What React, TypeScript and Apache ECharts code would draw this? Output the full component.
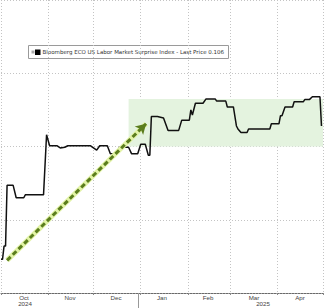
import React, { useEffect, useRef } from "react";
import * as echarts from "echarts";

// Bloomberg ECO US Labor Market Surprise Index
const dates: string[] = [
  "2024-10-01", "2024-10-02", "2024-10-03", "2024-10-04", "2024-10-05", "2024-10-09",
  "2024-10-11", "2024-10-16", "2024-10-17", "2024-10-29", "2024-10-31", "2024-11-02",
  "2024-11-07", "2024-11-09", "2024-11-12", "2024-11-14", "2024-11-29", "2024-12-03",
  "2024-12-05", "2024-12-10", "2024-12-12", "2024-12-16", "2024-12-18", "2024-12-24",
  "2024-12-26", "2024-12-30", "2025-01-01", "2025-01-04", "2025-01-06", "2025-01-07",
  "2025-01-08", "2025-01-12", "2025-01-16", "2025-01-19", "2025-01-26", "2025-01-28",
  "2025-02-02", "2025-02-03", "2025-02-04", "2025-02-06", "2025-02-11", "2025-02-13",
  "2025-02-19", "2025-02-20", "2025-02-26", "2025-02-27", "2025-03-03", "2025-03-05",
  "2025-03-06", "2025-03-08", "2025-03-12", "2025-03-13", "2025-03-27", "2025-03-28",
  "2025-04-02", "2025-04-03", "2025-04-04", "2025-04-06", "2025-04-11", "2025-04-12",
  "2025-04-18", "2025-04-19", "2025-04-22", "2025-04-24", "2025-04-29", "2025-04-30",
];
const values: number[] = [
  -0.054, -0.054, -0.036, -0.036, 0.047, 0.047,
  0.030, 0.030, 0.034, 0.034, 0.116, 0.101,
  0.101, 0.098, 0.099, 0.101, 0.101, 0.095,
  0.101, 0.101, 0.090, 0.090, 0.099, 0.099,
  0.090, 0.090, 0.103, 0.103, 0.088, 0.088,
  0.141, 0.141, 0.139, 0.122, 0.122, 0.136,
  0.136, 0.150, 0.143, 0.159, 0.159, 0.165,
  0.165, 0.162, 0.162, 0.154, 0.154, 0.128,
  0.124, 0.119, 0.119, 0.124, 0.124, 0.131,
  0.131, 0.142, 0.142, 0.154, 0.154, 0.161,
  0.161, 0.164, 0.164, 0.168, 0.168, 0.128,
];

const monthLabels: string[] = ["Oct", "Nov", "Dec", "Jan", "Feb", "Mar", "Apr"];
const yearLabels: string[] = ["2024", "2025"];
const axisRange: string[] = ["2024-10-01", "2025-05-01"];
const yRange: number[] = [-0.1, 0.3];

// shaded band and trend arrow (data units)
const bandStart: string[] = ["2024-12-24", "2025-05-01"];
const bandValues: number[] = [0.1, 0.165];
const arrowDates: string[] = ["2024-10-05", "2025-01-04T12:00:00"];
const arrowValues: number[] = [-0.0555, 0.131];

const legendText = "Bloomberg ECO US Labor Market Surprise Index - Last Price 0.106";

export default function App() {
  const ref = useRef<HTMLDivElement>(null);

  useEffect(() => {
    document.body.style.margin = "0";
    if (!ref.current) return;
    const chart = echarts.init(ref.current, undefined, { renderer: "svg" });
    const p = (s: string) => +echarts.time.parse(s);
    const lineData = dates.map((d, i) => [p(d), values[i]]);
    const font = "Liberation Sans";

    chart.setOption({
      animation: false,
      backgroundColor: "#ffffff",
      grid: { left: 1, right: 1, top: -3, bottom: 15, containLabel: false },
      xAxis: [
        {
          type: "time",
          min: p(axisRange[0]),
          max: p(axisRange[1]),
          splitNumber: 7,
          axisLine: { show: true, onZero: false, lineStyle: { color: "#6a6a6a", width: 1, type: [2, 1] } },
          axisTick: { show: true, length: 2, lineStyle: { color: "#888" } },
          axisLabel: { show: false },
          splitLine: { show: true, lineStyle: { color: "#c4c4c4", type: [1, 2], width: 1 } },
        },
        {
          type: "category",
          data: monthLabels,
          boundaryGap: true,
          position: "bottom",
          axisLine: { show: false },
          axisTick: { show: false },
          splitLine: { show: false },
          axisLabel: {
            show: true,
            interval: 0,
            margin: 1,
            fontFamily: font,
            fontSize: 6.2,
            color: "#444",
            lineHeight: 7,
          },
        },
      ],
      yAxis: {
        type: "value",
        min: yRange[0],
        max: yRange[1],
        interval: 0.1,
        axisLine: { show: false },
        axisTick: { show: false },
        axisLabel: { show: false },
        splitLine: { show: true, lineStyle: { color: "#c4c4c4", type: [1, 2], width: 1 } },
      },
      series: [
        {
          type: "line",
          xAxisIndex: 0,
          data: lineData,
          showSymbol: false,
          symbol: "none",
          lineStyle: { color: "#111", width: 1.5 },
          clip: true,
          z: 3,
          markArea: {
            silent: true,
            itemStyle: { color: "#e4f3df", opacity: 1 },
            data: [
              [
                { coord: [p(bandStart[0]), bandValues[0]] },
                { coord: [p(bandStart[1]), bandValues[1]] },
              ],
            ],
          },
        },
        {
          type: "line",
          xAxisIndex: 0,
          data: [],
          z: 4,
          markLine: {
            silent: true,
            symbol: ["none", "none"],
            label: { show: false },
            lineStyle: { color: "#e2f3a6", width: 5, type: "solid" },
            data: [
              [
                { coord: [p(arrowDates[0]), arrowValues[0]] },
                { coord: [p(arrowDates[1]), arrowValues[1]] },
              ],
            ],
          },
        },
        {
          type: "line",
          xAxisIndex: 0,
          data: [],
          z: 5,
          markLine: {
            silent: true,
            symbol: ["none", "arrow"],
            symbolSize: [9, 10],
            label: { show: false },
            lineStyle: { color: "#5b7d1e", width: 3, type: [5, 3] },
            data: [
              [
                { coord: [p(arrowDates[0]), arrowValues[0]] },
                { coord: [p(arrowDates[1]), arrowValues[1]] },
              ],
            ],
          },
        },
      ],
      graphic: [
        {
          type: "group",
          left: 28,
          top: 45,
          children: [
            {
              type: "rect",
              shape: { x: 0, y: 0, width: 200, height: 13 },
              style: { fill: "#ffffff", stroke: "#9a9a9a", lineWidth: 1 },
            },
            { type: "rect", shape: { x: 3, y: 5, width: 3, height: 3 }, style: { fill: "#aaaaaa" } },
            { type: "rect", shape: { x: 6.5, y: 4, width: 5.5, height: 5.5 }, style: { fill: "#000000" } },
            {
              type: "text",
              x: 14,
              y: 6.5,
              style: {
                text: legendText,
                fontFamily: "DejaVu Sans",
                fontSize: 5.5,
                fill: "#333",
                verticalAlign: "middle",
              },
            },
          ],
        },
        {
          type: "text",
          x: 25,
          y: 303,
          style: { text: yearLabels[0], fontFamily: font, fontSize: 6.2, fill: "#444", align: "center", verticalAlign: "middle" },
        },
        {
          type: "text",
          x: 263,
          y: 303,
          style: { text: yearLabels[1], fontFamily: font, fontSize: 6.2, fill: "#444", align: "center", verticalAlign: "middle" },
        },
        {
          type: "line",
          shape: { x1: 138.5, y1: 294, x2: 138.5, y2: 308 },
          style: { stroke: "#999", lineWidth: 1 },
        },
      ],
    });

    return () => chart.dispose();
  }, []);

  return <div ref={ref} style={{ width: 324, height: 308 }} />;
}
